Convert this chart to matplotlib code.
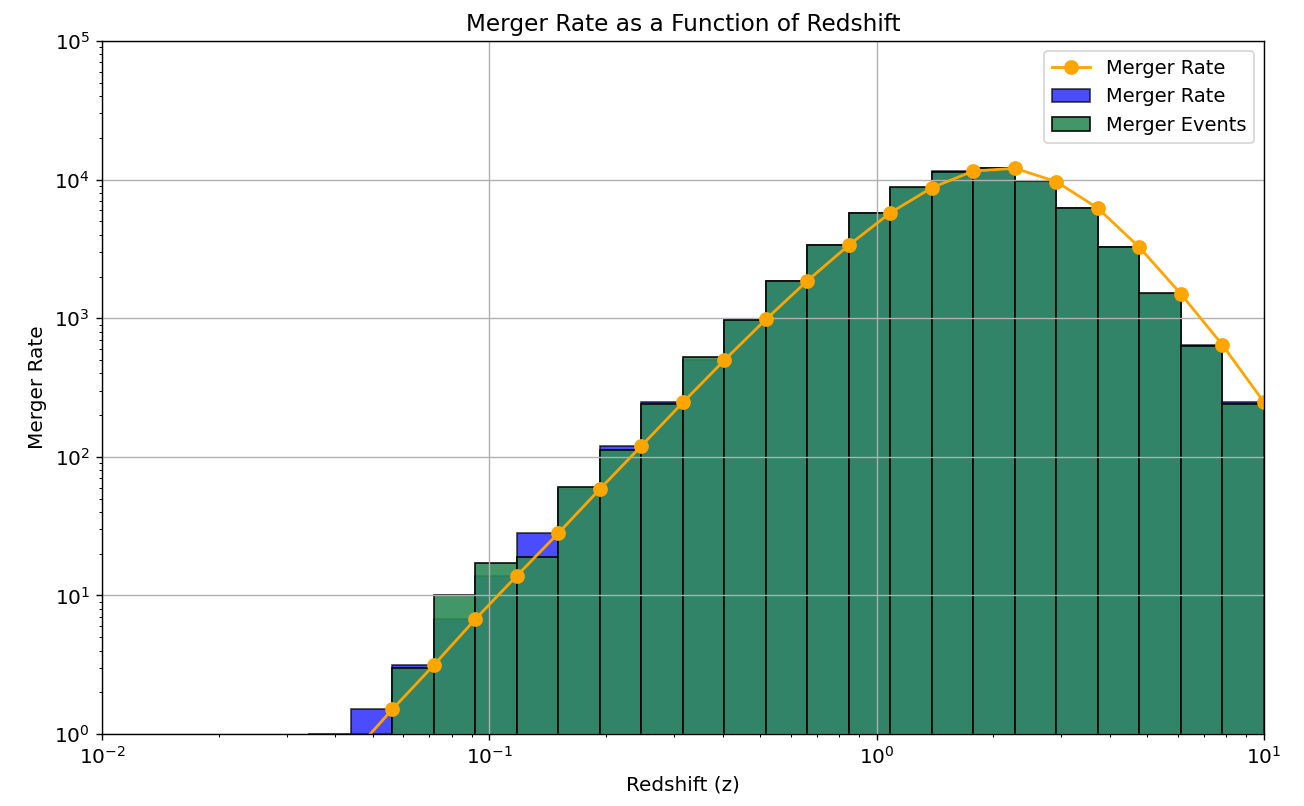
import matplotlib
matplotlib.use('Agg')
import matplotlib.pyplot as plt
import numpy as np

# log-spaced redshift bins, 0.01 .. 10
bin_edges = np.logspace(-2, 1, 29)

# merger rate evaluated at each bin edge (line with markers)
rate_at_edges = [0.008, 0.017, 0.035, 0.075, 0.16, 0.34, 0.70,
                 1.51, 3.15, 6.76, 13.9, 28.2, 58.6, 120, 247, 499,
                 982, 1866, 3375, 5770, 8750, 11540, 12070, 9660,
                 6210, 3245, 1495, 641, 248]

# blue histogram: merger rate per bin
rate_hist = [0.017, 0.035, 0.075, 0.16, 0.34, 0.70, 1.51,
             3.15, 6.76, 13.9, 28.2, 58.6, 120, 247, 499, 982,
             1866, 3375, 5770, 8750, 11540, 12070, 9660, 6210,
             3245, 1495, 641, 248]

# green histogram: sampled merger events per bin
events_hist = [0, 0, 0, 0, 0, 1, 1,
               3, 10, 17, 19, 61, 112, 242, 525, 965,
               1850, 3350, 5720, 8790, 11400, 12200, 9780, 6210,
               3280, 1520, 630, 239]

plt.rcParams['font.family'] = ['DejaVu Sans']
plt.rcParams['font.size'] = 11.5

fig, ax = plt.subplots(figsize=(1304 / 125, 806 / 125), dpi=125)
fig.subplots_adjust(left=0.0782, right=0.9693, top=0.9491, bottom=0.0893)

widths = np.diff(bin_edges)

ax.plot(bin_edges, rate_at_edges, marker='o', color='orange',
        markersize=7.5, linewidth=1.6, label='Merger Rate')
ax.bar(bin_edges[:-1], rate_hist, width=widths, align='edge',
       color='blue', alpha=0.7, edgecolor='black', label='Merger Rate')
ax.bar(bin_edges[:-1], events_hist, width=widths, align='edge',
       color='seagreen', alpha=0.9, edgecolor='black', label='Merger Events')

ax.set_xscale('log')
ax.set_yscale('log')
ax.set_xlim(1e-2, 1e1)
ax.set_ylim(1, 1e5)

ax.set_title('Merger Rate as a Function of Redshift', fontsize=13.3)
ax.set_xlabel('Redshift (z)')
ax.set_ylabel('Merger Rate')
ax.grid(True)
ax.legend(loc='upper right', fontsize=11.2)

fig.savefig('out.png', dpi=125)
